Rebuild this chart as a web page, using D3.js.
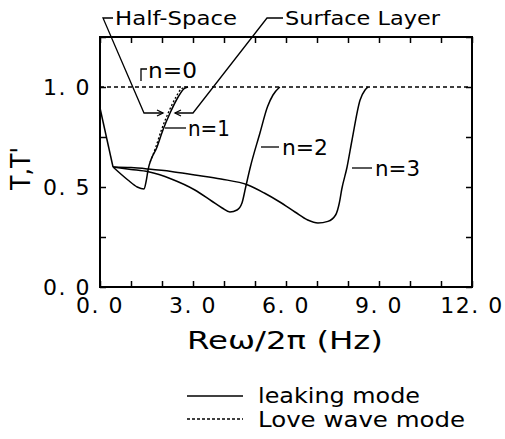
<!DOCTYPE html>
<html>
<head>
<meta charset="utf-8">
<script src="https://cdn.jsdelivr.net/npm/d3@7"></script>
<style>
  body { margin: 0; background: #fff; }
  text { font-family: "DejaVu Sans", sans-serif; fill: #000; }
</style>
</head>
<body>
<script>
// values: [frequency Hz, T]
// all leaking modes share the first drop
let sharedStart = [[0, 0.895], [0.42, 0.6]];
let mode1 = [[0.42, 0.6], [0.9, 0.535], [1.2, 0.5], [1.42, 0.49], [1.49, 0.53], [1.55, 0.585],
  [1.84, 0.7], [2.03, 0.785], [2.26, 0.87], [2.52, 0.95], [2.7, 0.99], [2.84, 1.0]];
let mode1Love = [[1.62, 0.625], [1.8, 0.7], [1.98, 0.785], [2.2, 0.87], [2.45, 0.95], [2.62, 0.99], [2.78, 1.0]];
let mode2 = [[0.42, 0.6], [1.0, 0.588], [1.56, 0.576], [2.3, 0.54], [3.06, 0.485], [3.6, 0.43],
  [3.94, 0.395], [4.19, 0.375], [4.42, 0.385], [4.58, 0.42], [4.7, 0.5], [4.85, 0.6], [5.16, 0.77],
  [5.4, 0.9], [5.58, 0.96], [5.8, 1.0]];
let mode3 = [[0.42, 0.6], [1.0, 0.597], [1.56, 0.59], [2.3, 0.578], [3.06, 0.56], [3.9, 0.54],
  [4.77, 0.51], [5.3, 0.47], [5.8, 0.425], [6.29, 0.375], [6.7, 0.335], [7.03, 0.32], [7.35, 0.328],
  [7.6, 0.36], [7.72, 0.42], [7.8, 0.49], [7.97, 0.6], [8.13, 0.735], [8.39, 0.935], [8.55, 0.985], [8.65, 1.0]];
let loveLine = [[0, 1.0], [12, 1.0]];

let xTicks = [0, 1, 2, 3, 4, 5, 6, 7, 8, 9, 10, 11, 12];
let xTickLabels = {0: "0. 0", 3: "3. 0", 6: "6. 0", 9: "9. 0", 12: "12. 0"};
let yTicks = [0, 0.25, 0.5, 0.75, 1.0, 1.25];
let yTickLabels = {0: "0. 0", 0.5: "0. 5", 1: "1. 0"};

let width = 505;
let height = 439;
let margin = { top: 37, left: 100, right: 33, bottom: 152 };

let svg = d3.select("body").append("svg")
  .attr("width", width)
  .attr("height", height);

let x = d3.scaleLinear().domain([0, 12]).range([margin.left, width - margin.right]);
let y = d3.scaleLinear().domain([0, 1.25]).range([height - margin.bottom, margin.top]);

let line = d3.line()
  .x(d => x(d[0]))
  .y(d => y(d[1]))
  .curve(d3.curveMonotoneX);

let straight = d3.line()
  .x(d => x(d[0]))
  .y(d => y(d[1]));

// dashed Love wave lines
svg.append("path")
  .datum(loveLine)
  .attr("d", straight)
  .attr("fill", "none")
  .attr("stroke", "#000")
  .attr("stroke-width", 1.3)
  .attr("stroke-dasharray", "4,3");

svg.append("path")
  .datum(mode1Love)
  .attr("d", line)
  .attr("fill", "none")
  .attr("stroke", "#000")
  .attr("stroke-width", 1.3)
  .attr("stroke-dasharray", "2,2");

// leaking modes
svg.append("path")
  .datum(sharedStart)
  .attr("d", straight)
  .attr("fill", "none")
  .attr("stroke", "#000")
  .attr("stroke-width", 1.5);

[mode1, mode2, mode3].forEach(m => {
  svg.append("path")
    .datum(m)
    .attr("d", line)
    .attr("fill", "none")
    .attr("stroke", "#000")
    .attr("stroke-width", 1.5);
});

// axes, ticks inward on every side
let tickLen = 6;
svg.append("g")
  .attr("transform", `translate(0,${y(0)})`)
  .call(d3.axisBottom(x).tickValues(xTicks).tickSize(-tickLen).tickFormat(""));
svg.append("g")
  .attr("transform", `translate(0,${y(1.25)})`)
  .call(d3.axisTop(x).tickValues(xTicks).tickSize(-tickLen).tickFormat(""));
svg.append("g")
  .attr("transform", `translate(${x(0)},0)`)
  .call(d3.axisLeft(y).tickValues(yTicks).tickSize(-tickLen).tickFormat(""));
svg.append("g")
  .attr("transform", `translate(${x(12)},0)`)
  .call(d3.axisRight(y).tickValues(yTicks).tickSize(-tickLen).tickFormat(""));
svg.selectAll(".domain").remove();
svg.selectAll(".tick line").attr("stroke-width", 1.5);

svg.append("rect")
  .attr("x", x(0)).attr("y", y(1.25))
  .attr("width", x(12) - x(0)).attr("height", y(0) - y(1.25))
  .attr("fill", "none").attr("stroke", "#000").attr("stroke-width", 2);

// tick labels
svg.append("g").selectAll("text")
  .data(Object.keys(xTickLabels).map(Number))
  .join("text")
  .attr("x", d => x(d))
  .attr("y", y(0) + 26)
  .attr("text-anchor", "middle")
  .attr("font-size", 22)
  .attr("letter-spacing", 1.5)
  .text(d => xTickLabels[d]);

svg.append("g").selectAll("text")
  .data(Object.keys(yTickLabels).map(Number))
  .join("text")
  .attr("x", x(0) - 9)
  .attr("y", d => y(d) + 8)
  .attr("text-anchor", "end")
  .attr("font-size", 22)
  .attr("letter-spacing", 1.5)
  .text(d => yTickLabels[d]);

// axis titles
svg.append("text")
  .attr("x", 187).attr("y", 349)
  .attr("font-size", 25)
  .attr("textLength", 196).attr("lengthAdjust", "spacingAndGlyphs")
  .text("Reω/2π (Hz)");

svg.append("text")
  .attr("transform", "translate(30,190) rotate(-90)")
  .attr("font-size", 26)
  .attr("textLength", 43).attr("lengthAdjust", "spacingAndGlyphs")
  .text("T,T'");

// annotations
let ann = svg.append("g").attr("fill", "none").attr("stroke", "#000").attr("stroke-width", 1.3);
ann.append("path").attr("d", "M113,18 H103 L144,113 H163");
ann.append("path").attr("d", "M157,110 L163,113 L157,116");
ann.append("path").attr("d", "M283,18 H267 L193,113 H175");
ann.append("path").attr("d", "M181,110 L175,113 L181,116");
ann.append("path").attr("d", "M141,81 V69 H147");
ann.append("path").attr("d", "M165,128 H186");
ann.append("path").attr("d", "M261,147 H279");
ann.append("path").attr("d", "M352,168 H372");

let labels = [
  { t: "Half-Space", x: 115, y: 25, w: 122, s: 19 },
  { t: "Surface Layer", x: 285, y: 25, w: 155, s: 20 },
  { t: "n=0", x: 148, y: 78, w: 49, s: 21 },
  { t: "n=1", x: 188, y: 136, w: 42, s: 21 },
  { t: "n=2", x: 282, y: 155, w: 46, s: 21 },
  { t: "n=3", x: 375, y: 176, w: 45, s: 21 }
];
svg.append("g").selectAll("text")
  .data(labels)
  .join("text")
  .attr("x", d => d.x).attr("y", d => d.y)
  .attr("font-size", d => d.s)
  .attr("textLength", d => d.w).attr("lengthAdjust", "spacingAndGlyphs")
  .text(d => d.t);

// legend
let legend = svg.append("g");
legend.append("line").attr("x1", 187).attr("x2", 243).attr("y1", 396).attr("y2", 396)
  .attr("stroke", "#000").attr("stroke-width", 1.3);
legend.append("line").attr("x1", 187).attr("x2", 243).attr("y1", 419).attr("y2", 419)
  .attr("stroke", "#000").attr("stroke-width", 1.3).attr("stroke-dasharray", "3,2");
legend.append("text").attr("x", 258).attr("y", 403).attr("font-size", 22)
  .attr("textLength", 162).attr("lengthAdjust", "spacingAndGlyphs").text("leaking mode");
legend.append("text").attr("x", 258).attr("y", 427).attr("font-size", 22)
  .attr("textLength", 207).attr("lengthAdjust", "spacingAndGlyphs").text("Love wave mode");
</script>
</body>
</html>
